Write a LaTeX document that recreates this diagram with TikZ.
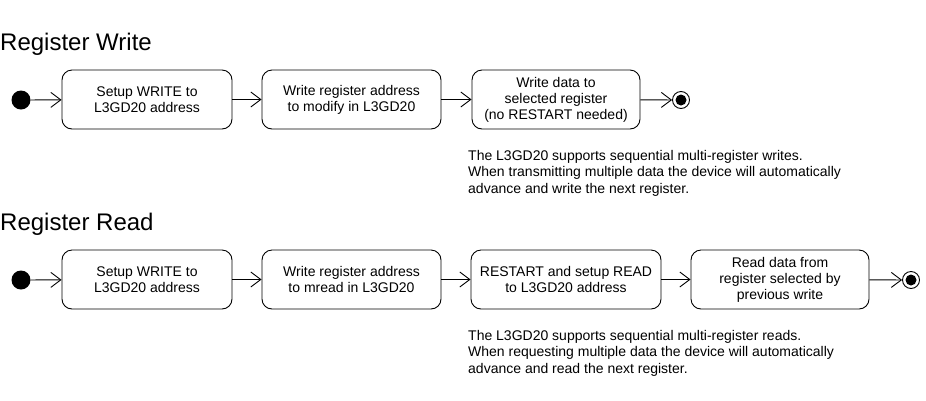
\documentclass[tikz,border=0pt]{standalone}
\usepackage{fontspec}
\setmainfont{Liberation Sans}
\usetikzlibrary{arrows.meta}

\tikzset{
  state/.style={draw, line width=0.9pt, rounded corners=10pt, minimum height=59pt,
    inner sep=0pt, align=center, font=\fontsize{14}{16}\selectfont},
  start/.style={circle, fill, inner sep=0pt, minimum size=19pt},
  stop/.style={circle, draw, line width=0.9pt, inner sep=0pt, minimum size=17pt,
    path picture={\fill (path picture bounding box.center) circle (5.5pt);}},
  flow/.style={line width=0.9pt, -{Straight Barb[length=10pt,width=15pt]}},
  title/.style={anchor=base west, inner sep=0pt, font=\fontsize{24}{28}\selectfont},
  note/.style={anchor=north west, inner sep=0pt, align=left, font=\fontsize{14}{16.8}\selectfont}
}

\begin{document}
\begin{tikzpicture}[x=1pt, y=-1pt]
  \useasboundingbox (0,0) rectangle (926,400);

  % register write
  \node[title] (tw) at (0,50) {Register Write};
  \node[start] (w0) at (21,100) {};
  \node[state, minimum width=170pt] (w1) at (147,99.5) {Setup WRITE to\\L3GD20 address};
  \node[state, minimum width=179pt] (w2) at (351.5,99.5) {Write register address\\to modify in L3GD20};
  \node[state, minimum width=168pt] (w3) at (556,99.5) {Write data to\\selected register\\(no RESTART needed)};
  \node[stop] (w4) at (681,100) {};
  \node[note] (nw) at (468,149.7) {The L3GD20 supports sequential multi-register writes.\\When transmitting multiple data the device will automatically\\advance and write the next register.};

  \draw[flow] (w0)--(w1);
  \draw[flow] (w1)--(w2);
  \draw[flow] (w2)--(w3);
  \draw[flow] (w3)--(w4);

  % register read
  \node[title] (tr) at (0,230) {Register Read};
  \node[start] (r0) at (21,280) {};
  \node[state, minimum width=170pt] (r1) at (147,279.5) {Setup WRITE to\\L3GD20 address};
  \node[state, minimum width=179pt] (r2) at (351.5,279.5) {Write register address\\to mread in L3GD20};
  \node[state, minimum width=190pt] (r3) at (566,279.5) {RESTART and setup READ\\to L3GD20 address};
  \node[state, minimum width=178pt] (r4) at (780,279.5) {Read data from\\register selected by\\previous write};
  \node[stop] (r5) at (911,280) {};
  \node[note] (nr) at (468,329.7) {The L3GD20 supports sequential multi-register reads.\\When requesting multiple data the device will automatically\\advance and read the next register.};

  \draw[flow] (r0)--(r1);
  \draw[flow] (r1)--(r2);
  \draw[flow] (r2)--(r3);
  \draw[flow] (r3)--(r4);
  \draw[flow] (r4)--(r5);
\end{tikzpicture}
\end{document}
